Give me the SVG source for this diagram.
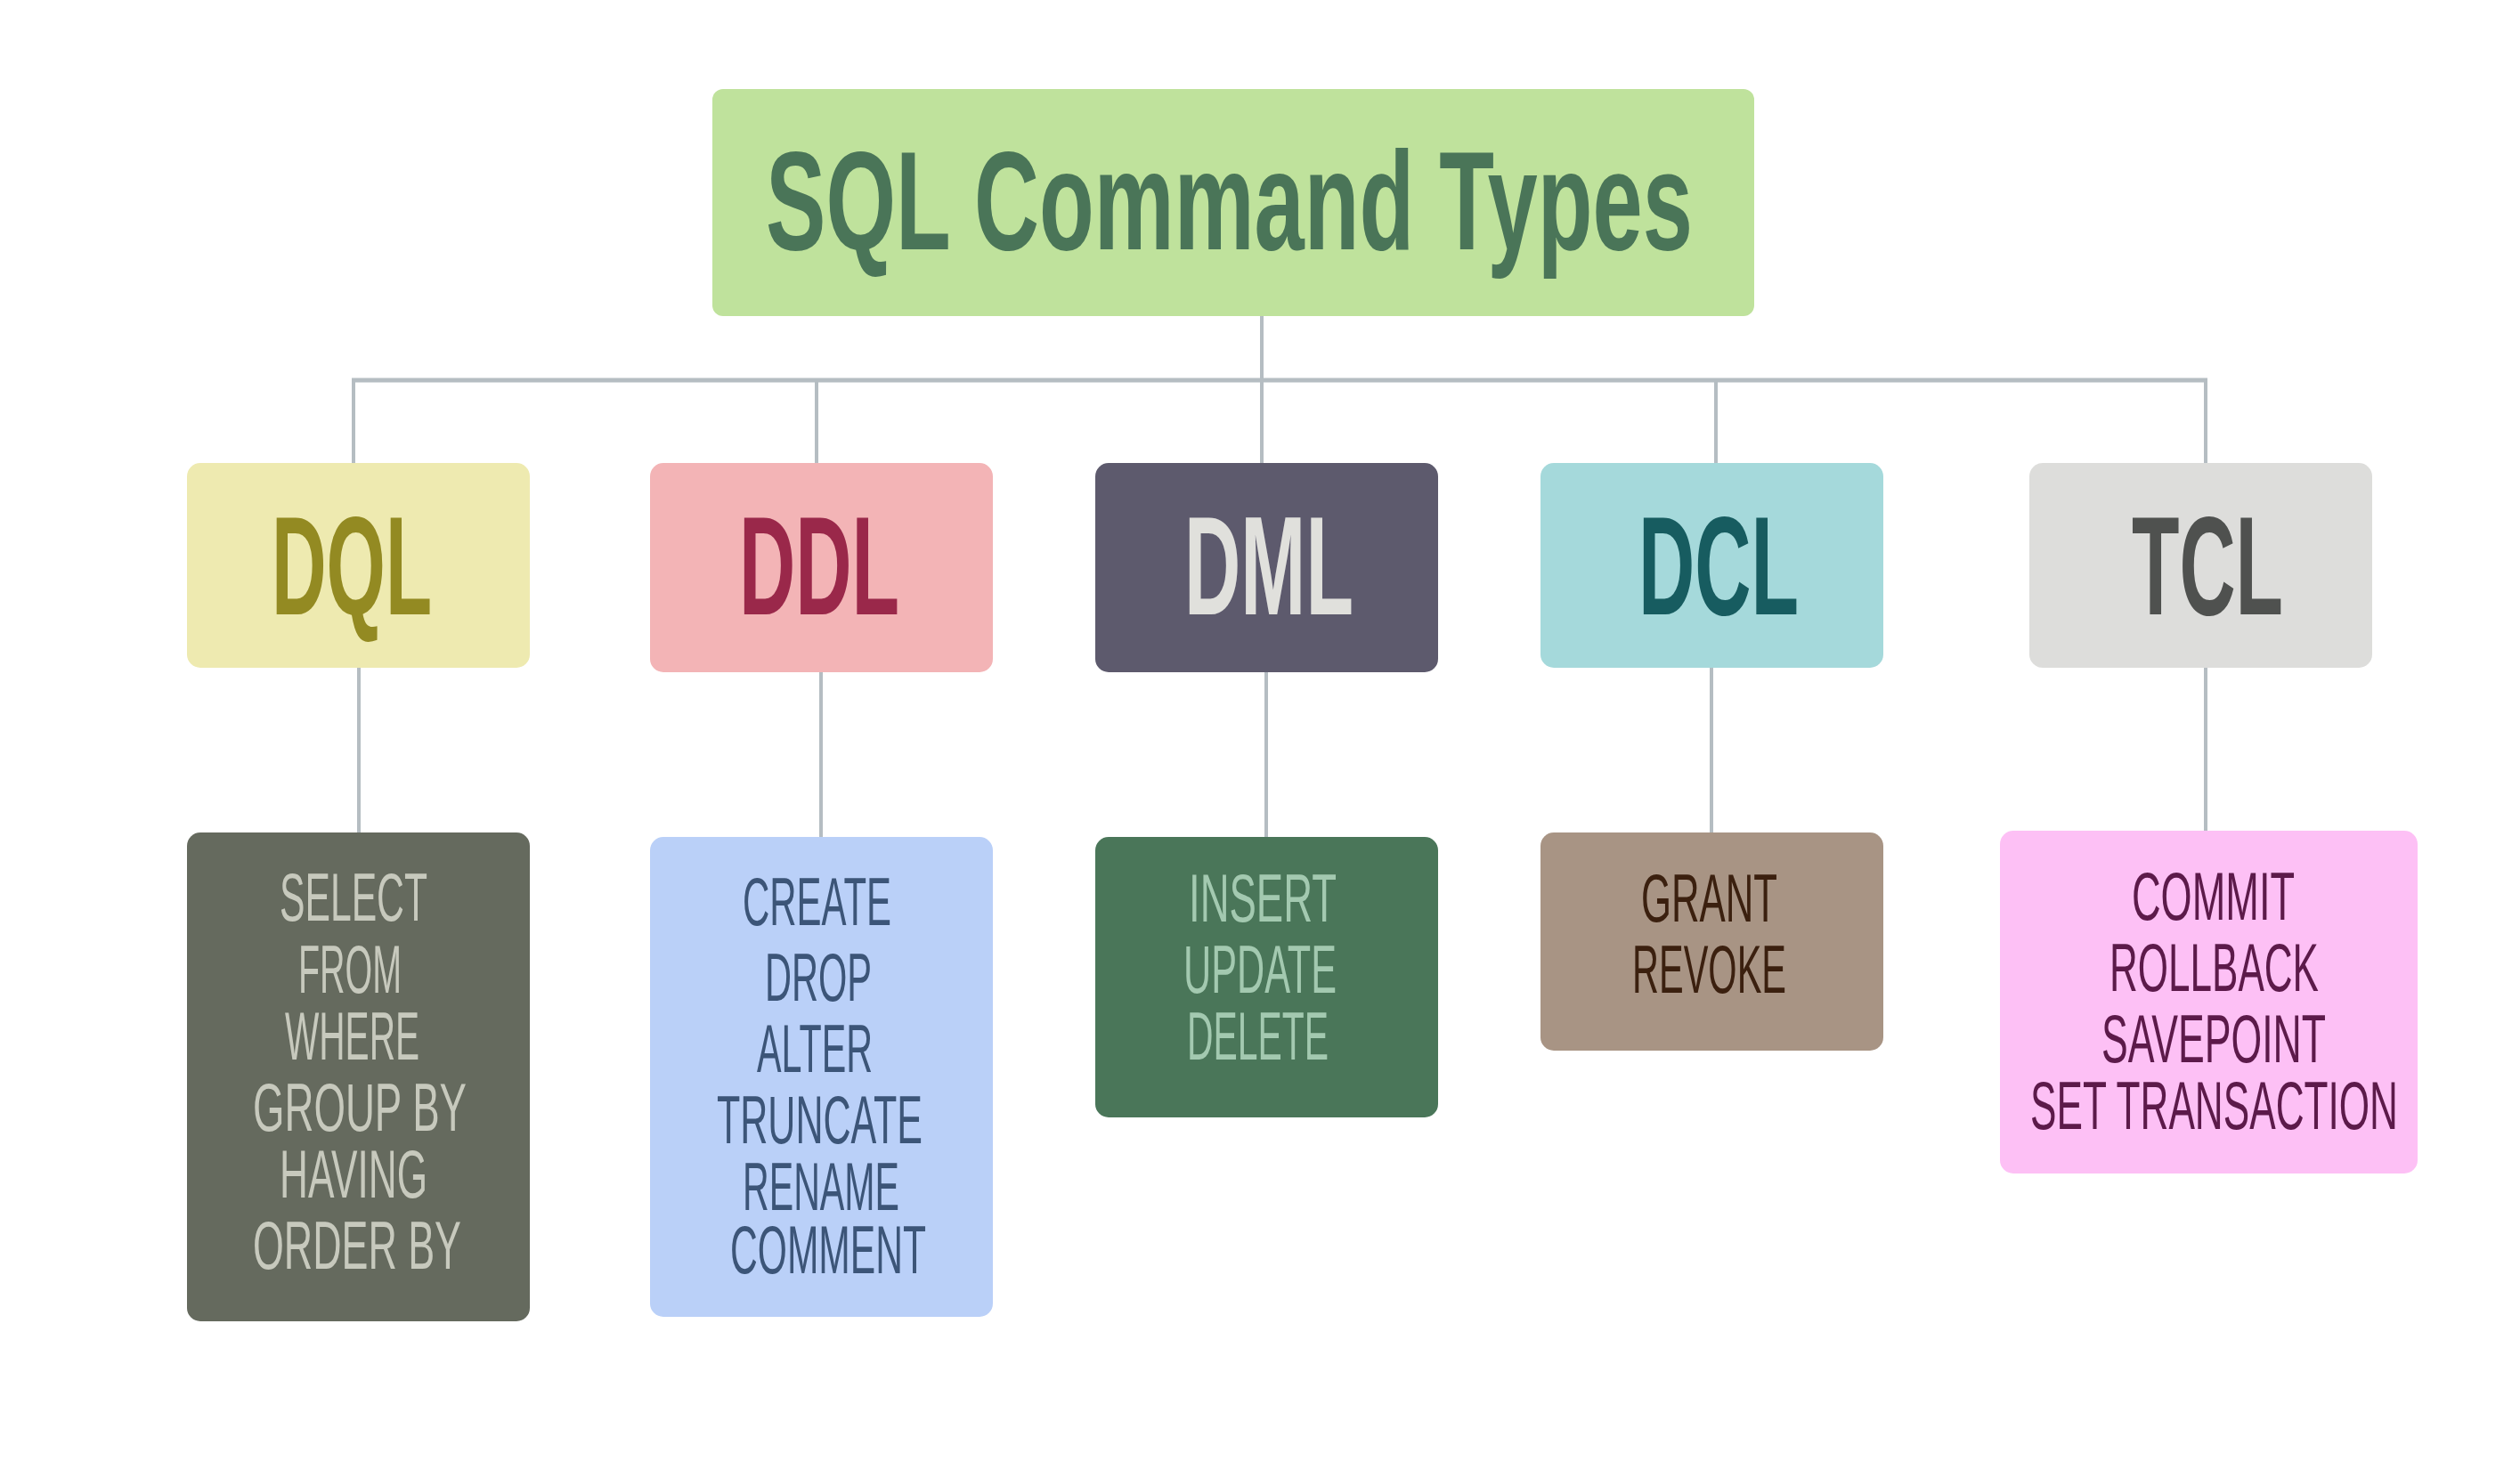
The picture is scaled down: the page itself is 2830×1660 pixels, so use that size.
<svg xmlns="http://www.w3.org/2000/svg" width="2830" height="1660" viewBox="0 0 2830 1660">
<style>
.conn{stroke:#b5bdc2;stroke-width:4;fill:none}
.t{font-family:"Liberation Sans","DejaVu Sans",sans-serif}
.h{font-size:158px;font-weight:bold}
.i{font-size:76px;font-weight:normal}
</style>
<rect width="2830" height="1660" fill="#ffffff"/>
<g id="connectors">
<line class="conn" x1="1417" y1="355" x2="1417" y2="427"/>
<line class="conn" x1="395" y1="427" x2="2479" y2="427" style="stroke-width:5"/>
<line class="conn" x1="397" y1="427" x2="397" y2="520"/>
<line class="conn" x1="917" y1="427" x2="917" y2="520"/>
<line class="conn" x1="1417" y1="427" x2="1417" y2="520"/>
<line class="conn" x1="1927" y1="427" x2="1927" y2="520"/>
<line class="conn" x1="2477" y1="427" x2="2477" y2="520"/>
<line class="conn" x1="403" y1="750" x2="403" y2="935"/>
<line class="conn" x1="922" y1="755" x2="922" y2="940"/>
<line class="conn" x1="1422" y1="755" x2="1422" y2="940"/>
<line class="conn" x1="1922" y1="750" x2="1922" y2="935"/>
<line class="conn" x1="2477" y1="750" x2="2477" y2="933"/>
</g>
<g id="title">
<rect x="800" y="100" width="1170" height="255" rx="12" fill="#bfe29c"/>
<text class="t h" x="860" y="280" textLength="1041" lengthAdjust="spacingAndGlyphs" fill="#4a7558">SQL Command Types</text>
</g>
<g id="dql">
<rect x="210" y="520" width="385" height="230" rx="15" fill="#eeeab0"/>
<text class="t h" x="305" y="690" textLength="180" lengthAdjust="spacingAndGlyphs" fill="#938a22">DQL</text>
</g>
<g id="ddl">
<rect x="730" y="520" width="385" height="235" rx="15" fill="#f3b4b6"/>
<text class="t h" x="830" y="690" textLength="180" lengthAdjust="spacingAndGlyphs" fill="#9a284a">DDL</text>
</g>
<g id="dml">
<rect x="1230" y="520" width="385" height="235" rx="15" fill="#5d5a6d"/>
<text class="t h" x="1330" y="690" textLength="190" lengthAdjust="spacingAndGlyphs" fill="#e0e0dc">DML</text>
</g>
<g id="dcl">
<rect x="1730" y="520" width="385" height="230" rx="15" fill="#a5d9db"/>
<text class="t h" x="1840" y="690" textLength="180" lengthAdjust="spacingAndGlyphs" fill="#175c60">DCL</text>
</g>
<g id="tcl">
<rect x="2279" y="520" width="385" height="230" rx="15" fill="#dddddb"/>
<text class="t h" x="2394" y="690" textLength="170" lengthAdjust="spacingAndGlyphs" fill="#4f514f">TCL</text>
</g>
<g id="dql-items">
<rect x="210" y="935" width="385" height="549" rx="15" fill="#656a5e"/>
<g class="t i" fill="#c7c9bd">
<text x="314" y="1034" textLength="166" lengthAdjust="spacingAndGlyphs">SELECT</text>
<text x="335" y="1115" textLength="116" lengthAdjust="spacingAndGlyphs">FROM</text>
<text x="320" y="1190" textLength="151" lengthAdjust="spacingAndGlyphs">WHERE</text>
<text x="284" y="1270" textLength="240" lengthAdjust="spacingAndGlyphs">GROUP BY</text>
<text x="314" y="1345" textLength="166" lengthAdjust="spacingAndGlyphs">HAVING</text>
<text x="284" y="1425" textLength="234" lengthAdjust="spacingAndGlyphs">ORDER BY</text>
</g>
</g>
<g id="ddl-items">
<rect x="730" y="940" width="385" height="539" rx="15" fill="#bad0f8"/>
<g class="t i" fill="#3c5578">
<text x="834" y="1039" textLength="167" lengthAdjust="spacingAndGlyphs">CREATE</text>
<text x="859" y="1124" textLength="120" lengthAdjust="spacingAndGlyphs">DROP</text>
<text x="850" y="1204" textLength="130" lengthAdjust="spacingAndGlyphs">ALTER</text>
<text x="805" y="1284" textLength="231" lengthAdjust="spacingAndGlyphs">TRUNCATE</text>
<text x="834" y="1359" textLength="176" lengthAdjust="spacingAndGlyphs">RENAME</text>
<text x="820" y="1430" textLength="220" lengthAdjust="spacingAndGlyphs">COMMENT</text>
</g>
</g>
<g id="dml-items">
<rect x="1230" y="940" width="385" height="315" rx="15" fill="#4a7659"/>
<g class="t i" fill="#a3c9b0">
<text x="1335" y="1035" textLength="166" lengthAdjust="spacingAndGlyphs">INSERT</text>
<text x="1329" y="1115" textLength="172" lengthAdjust="spacingAndGlyphs">UPDATE</text>
<text x="1333" y="1190" textLength="159" lengthAdjust="spacingAndGlyphs">DELETE</text>
</g>
</g>
<g id="dcl-items">
<rect x="1730" y="935" width="385" height="245" rx="15" fill="#a89484"/>
<g class="t i" fill="#3b200f">
<text x="1843" y="1035" textLength="153" lengthAdjust="spacingAndGlyphs">GRANT</text>
<text x="1833" y="1115" textLength="173" lengthAdjust="spacingAndGlyphs">REVOKE</text>
</g>
</g>
<g id="tcl-items">
<rect x="2246" y="933" width="469" height="385" rx="15" fill="#fdc0f5"/>
<g class="t i" fill="#5c1a4a">
<text x="2394" y="1033" textLength="183" lengthAdjust="spacingAndGlyphs">COMMIT</text>
<text x="2369" y="1113" textLength="235" lengthAdjust="spacingAndGlyphs">ROLLBACK</text>
<text x="2360" y="1193" textLength="252" lengthAdjust="spacingAndGlyphs">SAVEPOINT</text>
<text x="2280" y="1268" textLength="413" lengthAdjust="spacingAndGlyphs">SET TRANSACTION</text>
</g>
</g>
</svg>
